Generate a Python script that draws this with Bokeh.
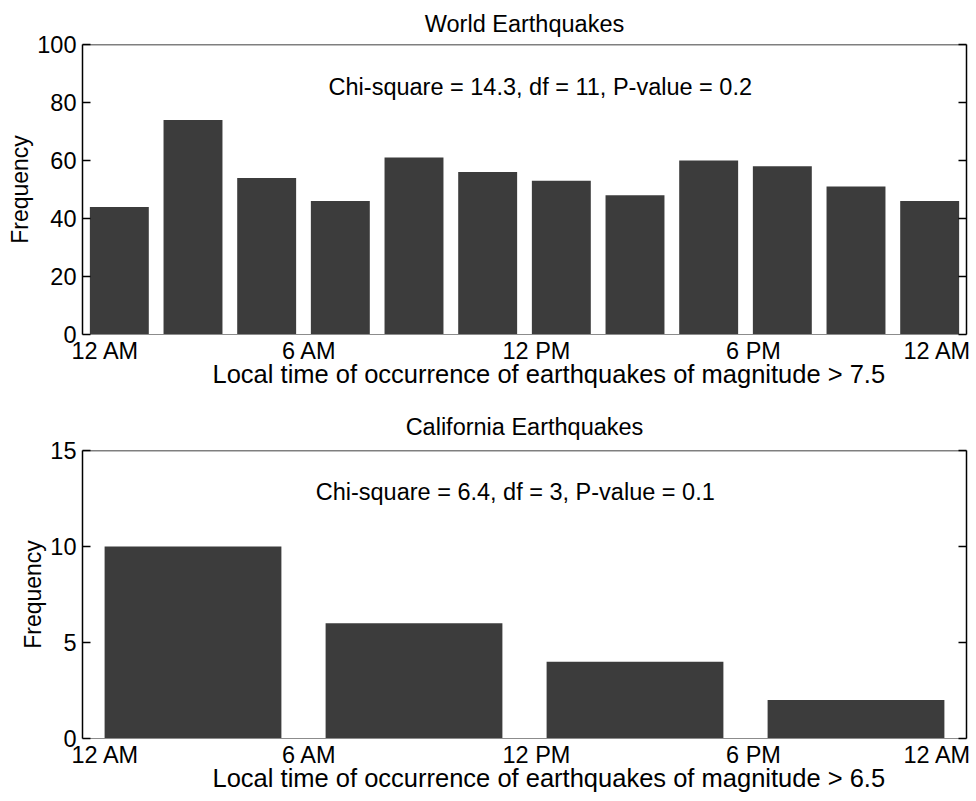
import numpy as np
from bokeh.plotting import figure
from bokeh.models import (FixedTicker, LinearAxis, Span, Label, Range1d,
                          ColumnDataSource, CustomJSTickFormatter, Title)
from bokeh.layouts import column
from bokeh.embed import file_html
from bokeh.resources import INLINE

# ---- data -------------------------------------------------------------
time_ticks = [0, 6, 12, 18, 24]                      # hours of the day
time_labels = ["12 AM", "6 AM", "12 PM", "6 PM", "12 AM"]

world_bin_hours = 2
world_counts = [44, 74, 54, 46, 61, 56, 53, 48, 60, 58, 51, 46]
world_yticks = [0, 20, 40, 60, 80, 100]
world_title = "World Earthquakes"
world_xlabel = "Local time of occurrence of earthquakes of magnitude > 7.5"
world_stats = "Chi-square = 14.3, df = 11, P-value = 0.2"

ca_bin_hours = 6
ca_counts = [10, 6, 4, 2]
ca_yticks = [0, 5, 10, 15]
ca_title = "California Earthquakes"
ca_xlabel = "Local time of occurrence of earthquakes of magnitude > 6.5"
ca_stats = "Chi-square = 6.4, df = 3, P-value = 0.1"

# ---- styling ------------------------------------------------------------
FONT = "Liberation Sans"
BAR_COLOR = "#3c3c3c"
FRAME_W = 884
HOURS_PER_PX = 24 / FRAME_W
# pixel nudges that keep the end labels of the time axis inside the frame
LABEL_NUDGE_PX = [23, 6, 12, 8, -29]
XLABEL_LEFT_PX = 130          # x label starts this far right of the frame edge


def panel(counts, bin_hours, yticks, title, xlabel, stats, stats_xy,
          height, top, bottom, title_standoff):
    ymax = yticks[-1]
    p = figure(width=976, height=height,
               x_range=Range1d(0, 24), y_range=Range1d(0, ymax),
               output_backend="svg", toolbar_location=None,
               min_border_left=82, min_border_right=10,
               min_border_top=top, min_border_bottom=bottom,
               background_fill_color="white", border_fill_color="white")
    p.outline_line_color = None
    p.xgrid.visible = False
    p.ygrid.visible = False

    centers = [bin_hours * (i + 0.5) for i in range(len(counts))]
    src = ColumnDataSource(dict(x=centers, top=counts))
    p.vbar(x="x", top="top", bottom=0, width=bin_hours * 0.8, source=src,
           fill_color=BAR_COLOR, line_color=None)

    # title
    p.title.text = title
    p.title.align = "center"
    p.title.text_font = FONT
    p.title.text_font_size = "23.5px"
    p.title.text_font_style = "normal"
    p.title.text_color = "black"
    p.title.standoff = title_standoff

    # time axis
    tick_pos = [t + n * HOURS_PER_PX for t, n in zip(time_ticks, LABEL_NUDGE_PX)]
    xa = p.xaxis[0]
    xa.ticker = FixedTicker(ticks=tick_pos)
    xa.formatter = CustomJSTickFormatter(args=dict(labels=time_labels),
                                         code="return labels[index];")
    xa.major_tick_line_color = None
    xa.minor_tick_line_color = None
    xa.axis_line_color = "#8c8c8c"
    xa.axis_line_width = 1
    xa.major_label_standoff = -3
    xa.major_label_text_font = FONT
    xa.major_label_text_font_size = "23.5px"
    xa.major_label_text_color = "black"

    # x label, tucked up under the tick labels
    p.add_layout(Title(text=xlabel, align="left", offset=XLABEL_LEFT_PX,
                       standoff=-18,
                       text_font=FONT, text_font_size="25.5px",
                       text_font_style="normal", text_color="black"),
                 "below")

    # frequency axis, ticks pointing into the frame
    ya = p.yaxis[0]
    ya.ticker = FixedTicker(ticks=yticks)
    ya.major_tick_in = 8
    ya.major_tick_out = 0
    ya.minor_tick_line_color = None
    ya.axis_line_width = 1.5
    ya.axis_line_color = "black"
    ya.major_tick_line_width = 1.5
    ya.major_label_standoff = 6
    ya.major_label_text_font = FONT
    ya.major_label_text_font_size = "23.5px"
    ya.major_label_text_color = "black"
    ya.axis_label = "Frequency"
    ya.axis_label_text_font = FONT
    ya.axis_label_text_font_size = "23px"
    ya.axis_label_text_font_style = "normal"
    ya.axis_label_text_color = "black"
    ya.axis_label_standoff = 1

    ra = LinearAxis(ticker=FixedTicker(ticks=yticks),
                    formatter=CustomJSTickFormatter(code="return '';"),
                    major_tick_in=8, major_tick_out=0,
                    major_tick_line_width=1.5,
                    minor_tick_line_color=None, axis_line_width=1.5,
                    major_label_standoff=0)
    p.add_layout(ra, "right")

    p.add_layout(Span(location=ymax, dimension="width",
                      line_color="black", line_width=1.5))

    p.add_layout(Label(x=stats_xy[0], y=stats_xy[1], text=stats,
                       text_align="left", text_baseline="middle",
                       text_font=FONT, text_font_size="23.5px",
                       text_color="black"))
    return p


top_panel = panel(world_counts, world_bin_hours, world_yticks, world_title,
                  world_xlabel, world_stats, (6.68, 85.3),
                  height=400, top=44, bottom=66, title_standoff=16)
bottom_panel = panel(ca_counts, ca_bin_hours, ca_yticks, ca_title,
                     ca_xlabel, ca_stats, (6.33, 12.85),
                     height=401, top=50, bottom=63, title_standoff=22)

layout = column(top_panel, bottom_panel, spacing=0)
open("out.html", "w").write(file_html(layout, INLINE))
